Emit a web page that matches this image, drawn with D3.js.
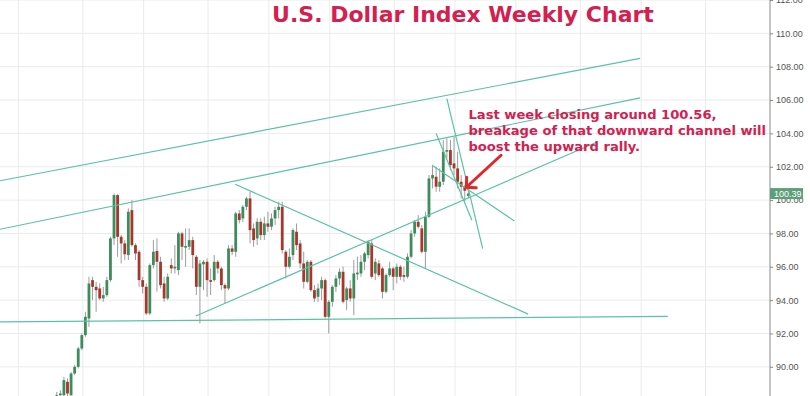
<!DOCTYPE html>
<html>
<head>
<meta charset="utf-8">
<script src="https://cdn.jsdelivr.net/npm/d3@7"></script>
<style>
body{
	margin:0;
	background-color: white;
}
svg{display:block;}
</style>
</head>
<body>
<div class="chart"></div>
<script>
// weekly candles, first one is the week of 2014-11-17
var firstWeek = '2014-11-17';
var opens = [87.7,88.3,88.3,89.1,88.3,89.6,90.0,91.1,91.9,92.9,95.2,94.8,94.7,94.1,94.3,95.2,97.7,100.3,97.8,97.4,
	96.7,99.4,97.3,96.9,95.2,94.8,93.2,96.1,96.95,96.3,95.0,94.1,96.1,95.9,95.8,98.0,97.15,97.2,97.6,96.6,
	94.8,96.15,96.3,95.2,95.2,96.3,95.9,94.9,94.7,97.1,96.9,99.2,98.9,99.6,100.1,98.3,97.7,98.7,97.9,98.6,
	98.4,98.9,99.4,99.6,96.9,96.0,96.7,98.1,97.4,96.2,95.1,96.3,94.6,94.2,94.7,95.2,93.0,93.9,94.8,95.3,
	95.7,94.0,94.7,94.1,95.55,95.6,96.3,96.7,97.4,95.6,96.2,95.9,94.5,95.5,95.9,95.4,96.0,95.5,95.4,96.6,
	98.0,98.7,98.3,96.9,99.0,101.3,101.4,100.8,101.1,102.9,103.0,102.2,101.9,101.1,100.8,100.25];
var highs = [88.5,88.6,89.4,89.3,89.7,90.1,91.2,92.0,93.3,95.4,95.4,95.1,95.0,94.8,95.4,97.8,100.4,100.35,97.9,97.6,
	99.5,100.0,97.4,97.0,95.4,95.0,96.2,97.6,97.7,96.6,95.4,95.6,96.5,97.3,98.1,98.1,98.3,98.3,97.8,96.7,
	96.4,96.4,96.5,95.9,96.7,96.4,96.0,95.0,97.3,97.3,99.3,99.4,99.7,100.2,100.5,98.6,98.9,98.9,99.0,99.3,
	99.2,99.6,99.9,99.9,97.0,97.1,98.3,98.6,97.6,96.9,96.4,96.4,94.9,95.0,95.4,95.3,94.0,94.9,95.5,95.9,
	96.0,94.8,95.2,96.4,96.6,96.7,96.9,97.6,97.6,96.5,96.4,96.0,95.6,96.3,96.0,96.2,96.1,96.0,96.8,98.2,
	98.8,99.1,98.5,99.3,101.5,102.1,102.0,101.9,103.6,103.7,103.6,103.8,102.9,101.5,100.9,100.6];
var lows = [87.5,87.9,88.0,88.2,88.2,89.5,89.9,91.0,91.8,92.4,94.0,93.3,94.0,93.9,94.2,95.1,97.3,96.6,96.2,96.4,
	96.4,97.2,96.4,94.8,94.4,93.1,93.1,95.9,94.5,94.7,93.9,94.0,95.6,95.6,95.5,96.4,96.0,97.0,95.9,94.3,
	92.6,94.6,94.2,94.3,95.1,95.6,94.6,93.8,94.6,96.7,96.6,98.6,98.7,99.4,97.4,97.2,97.3,97.6,97.6,98.1,
	98.2,98.5,98.9,96.8,95.3,95.9,96.4,97.0,95.9,94.7,95.0,94.5,93.9,93.9,94.0,92.9,92.0,93.6,94.5,94.9,
	93.8,93.4,93.9,93.1,95.2,95.4,95.8,96.5,95.3,95.2,95.4,94.1,94.4,95.4,94.6,95.0,95.2,95.1,95.3,96.5,
	97.8,98.3,96.8,95.9,98.9,100.7,100.5,100.5,100.9,102.5,101.8,101.5,100.7,100.1,99.9,100.1];
var closes = [88.3,88.4,89.2,88.4,89.6,90.0,91.1,91.9,93.0,95.0,94.8,94.6,94.1,94.3,95.2,97.7,100.3,97.8,97.4,96.75,
	99.3,97.3,96.8,95.2,94.8,93.2,96.1,96.9,96.3,94.9,94.1,95.4,95.9,96.0,98.0,97.2,97.25,97.6,96.7,94.8,
	96.2,96.3,95.2,95.1,96.3,95.9,94.9,94.7,97.1,96.9,99.2,98.8,99.6,100.1,98.2,97.6,98.7,97.9,98.6,98.4,
	98.9,99.4,99.6,97.0,96.0,96.6,98.2,97.3,96.2,95.1,96.3,94.6,94.1,94.7,95.2,93.0,93.9,94.8,95.3,95.7,
	93.9,94.7,94.1,95.6,95.65,96.3,96.8,97.5,95.4,96.3,95.5,94.5,95.5,95.9,95.4,96.0,95.4,95.4,96.6,98.0,
	98.7,98.4,96.9,99.0,101.3,101.5,100.8,101.1,102.9,103.0,102.1,101.9,101.1,100.8,100.56,100.39];

var priceTicks = [90,92,94,96,98,100,102,104,106,108,110,112];
var lastPrice = 100.39;

// drawn trend lines, [date, price] end points
var trendLines = [
	[['2014-07-29',101.16],['2018-01-01',108.50]],
	[['2014-07-29',98.25],['2018-01-01',106.13]],
	[['2014-07-29',92.69],['2018-02-24',93.03]],
	[['2015-11-01',100.95],['2017-05-27',93.16]],
	[['2015-08-16',93.05],['2017-10-09',103.48]],
	[['2016-11-20',102.09],['2017-04-30',98.75]],
	[['2016-11-28',103.99],['2017-02-06',98.79]],
	[['2016-12-19',106.09],['2017-02-27',97.09]]
];
var arrowFrom = ['2017-04-04',102.69];
var arrowTo = ['2017-01-26',100.77];

var titleText = 'U.S. Dollar Index Weekly Chart';
var noteLines = ['Last week closing around 100.56,',
	'breakage of that downward channel will',
	'boost the upward rally.'];

var width = 810, height = 396, plotW = 770;
var parse = d3.timeParse('%Y-%m-%d');

var candles = opens.map(function(o,i){
	return {date: d3.timeWeek.offset(parse(firstWeek), i), o:o, h:highs[i], l:lows[i], c:closes[i]};
});

var x = d3.scaleTime()
	.domain([parse('2014-07-29'), parse('2018-09-12')])
	.range([0, plotW]);
var y = d3.scaleLinear()
	.domain([88.25, 112])
	.range([height, 0]);

var svg = d3.select('.chart').append('svg')
	.attr('width', width)
	.attr('height', height);

svg.append('clipPath').attr('id','plot')
	.append('rect').attr('width', plotW).attr('height', height);

var plot = svg.append('g').attr('clip-path','url(#plot)');

// grid
plot.selectAll('.hgrid').data(priceTicks).enter().append('line')
	.attr('x1',0).attr('x2',plotW)
	.attr('y1',function(d){ return y(d); })
	.attr('y2',function(d){ return y(d); })
	.attr('stroke','#ebebeb').attr('stroke-width',1);

var gridDates = x.ticks(d3.timeMonth.every(4)).map(function(d){ return d3.timeMonday.ceil(d); })
	.filter(function(d){ return x(d) < plotW - 10; });
plot.selectAll('.vgrid').data(gridDates).enter().append('line')
	.attr('x1',function(d){ return x(d)+1; })
	.attr('x2',function(d){ return x(d)+1; })
	.attr('y1',0).attr('y2',height)
	.attr('stroke','#ebebeb').attr('stroke-width',1);

// candles
var bodyW = 2.8;
var cg = plot.selectAll('.candle').data(candles).enter().append('g');
cg.append('line')
	.attr('x1',function(d){ return x(d.date); })
	.attr('x2',function(d){ return x(d.date); })
	.attr('y1',function(d){ return y(d.h); })
	.attr('y2',function(d){ return y(d.l); })
	.attr('stroke','#9c9c9c').attr('stroke-width',1);
cg.append('rect')
	.attr('x',function(d){ return x(d.date)-bodyW/2; })
	.attr('width',bodyW)
	.attr('y',function(d){ return y(Math.max(d.o,d.c)); })
	.attr('height',function(d){ return Math.max(1, Math.abs(y(d.o)-y(d.c))); })
	.attr('fill',function(d){ return d.c >= d.o ? '#3e8b5c' : '#a9362c'; });

// trend lines
plot.selectAll('.trend').data(trendLines).enter().append('line')
	.attr('x1',function(d){ return x(parse(d[0][0])); })
	.attr('y1',function(d){ return y(d[0][1]); })
	.attr('x2',function(d){ return x(parse(d[1][0])); })
	.attr('y2',function(d){ return y(d[1][1]); })
	.attr('stroke','#5bc2a5').attr('stroke-width',1.2);

// price axis
var axis = svg.append('g')
	.attr('transform','translate('+plotW+',0)')
	.call(d3.axisRight(y).tickValues(priceTicks).tickFormat(d3.format('.2f')).tickSize(3).tickSizeOuter(0).tickPadding(3));
axis.select('.domain').attr('stroke','#8a8a8a').attr('d','M0,0V'+height);
axis.selectAll('.tick line').attr('stroke','#8a8a8a');
axis.selectAll('text').attr('fill','#555').style('font-family','"Liberation Sans", Arial, sans-serif').style('font-size','9px');

// last price tag
var tag = svg.append('g').attr('transform','translate('+plotW+','+y(lastPrice)+')');
tag.append('rect').attr('x',0).attr('y',-5.5).attr('width',33).attr('height',11).attr('fill','#5e9e78');
tag.append('text').attr('x',4).attr('y',3.3).text(d3.format('.2f')(lastPrice))
	.attr('fill','white').style('font-family','"Liberation Sans", Arial, sans-serif').style('font-size','9px');

// title and note
svg.append('text').text(titleText)
	.attr('x',463).attr('y',22)
	.attr('text-anchor','middle')
	.attr('fill','#d42050')
	.style('font-family','"DejaVu Sans", Verdana, sans-serif')
	.style('font-weight','bold').style('font-size','22px');

svg.selectAll('.note').data(noteLines).enter().append('text')
	.text(function(d){ return d; })
	.attr('x',468.5).attr('y',function(d,i){ return 119 + i*16; })
	.attr('fill','#d42050')
	.style('font-family','"DejaVu Sans", Verdana, sans-serif')
	.style('font-weight','bold').style('font-size','13.1px');

// red arrow
var ax1 = x(parse(arrowFrom[0])), ay1 = y(arrowFrom[1]);
var ax2 = x(parse(arrowTo[0])), ay2 = y(arrowTo[1]);
var ang = Math.atan2(ay1-ay2, ax1-ax2), headLen = 10;
var head = [ang+Math.PI/4, ang-Math.PI/4].map(function(a){
	return [ax2+headLen*Math.cos(a), ay2+headLen*Math.sin(a)];
});
svg.append('path')
	.attr('d','M'+ax1+','+ay1+'L'+ax2+','+ay2+'M'+head[0]+'L'+ax2+','+ay2+'L'+head[1])
	.attr('fill','none').attr('stroke','#e3262a').attr('stroke-width',3).attr('stroke-linecap','round');
</script>
</body>
</html>
